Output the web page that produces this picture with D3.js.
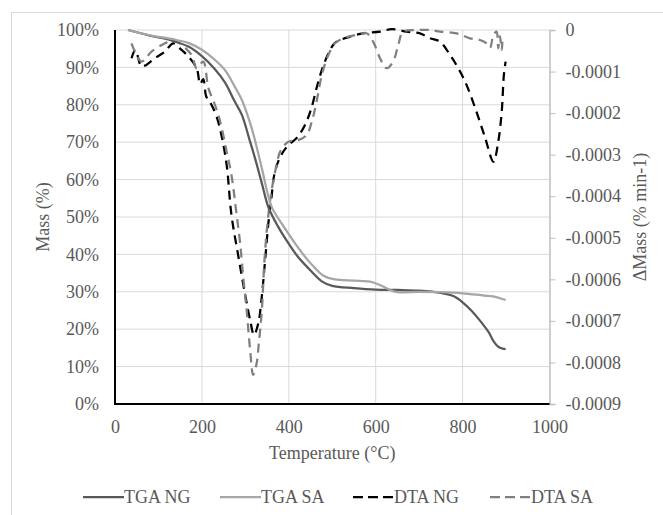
<!DOCTYPE html>
<html><head><meta charset="utf-8">
<script src="https://cdn.jsdelivr.net/npm/d3@7"></script>
<style>
html,body{margin:0;padding:0;background:#fff;}
svg, svg text{font-family:"Liberation Serif","Times New Roman",Times,serif !important;}
svg text{fill:#595959;}
</style></head>
<body><svg id="c" width="663" height="515" font-family="Liberation Serif"></svg>
<script>
// ---- data ----
const xTicks = [0, 200, 400, 600, 800, 1000];
const leftTicks = [0, 10, 20, 30, 40, 50, 60, 70, 80, 90, 100];
const rightTicks = [0, -0.0001, -0.0002, -0.0003, -0.0004, -0.0005, -0.0006, -0.0007, -0.0008, -0.0009];
const rightTickLabels = ["0", "-0.0001", "-0.0002", "-0.0003", "-0.0004", "-0.0005", "-0.0006", "-0.0007", "-0.0008", "-0.0009"];
const seriesNames = ["TGA NG", "TGA SA", "DTA NG", "DTA SA"];

const tgaNG = [[30,100],[80,98.5],[130,97.2],[170,95.5],[200,93],[230,89.5],[253,86],[275,81],[292,77.3],[310,70.5],[322,65.8],[338,59],[353,52.6],[375,47.5],[399,43],[420,39.5],[445,36.3],[476,32.8],[500,31.6],[550,31],[600,30.6],[650,30.5],[700,30.3],[750,29.7],[780,28.8],[802,27],[820,25],[840,22.3],[860,19.2],[871,16.8],[882,15.3],[892,14.8],[899,14.7]];
const tgaSA = [[30,100],[80,98.6],[130,97.6],[170,96.5],[200,94.7],[230,92],[253,89.3],[275,85],[292,81.3],[310,75.5],[322,70.6],[338,63],[353,55.5],[362,52.3],[385,48],[414,43],[440,39],[460,36.4],[480,34.3],[506,33.3],[550,33],[587,32.7],[610,31.8],[633,30.5],[650,29.9],[700,30],[750,29.9],[800,29.6],[850,29],[870,28.8],[899,27.8]];
const dtaNG = [[38,-0.000068],[47,-0.000048],[61,-0.000088],[72,-0.000084],[92,-0.000068],[115,-0.000052],[134,-0.000032],[153,-0.000048],[169,-0.000064],[188,-0.000092],[196,-0.00013],[203,-0.000118],[210,-0.00016],[222,-0.00018],[234,-0.000209],[245,-0.000253],[257,-0.000325],[268,-0.000445],[284,-0.000545],[299,-0.000634],[311,-0.000698],[320,-0.000734],[330,-0.000705],[337,-0.00065],[345,-0.00056],[353,-0.000465],[360,-0.000404],[368,-0.000341],[383,-0.0003],[399,-0.000277],[418,-0.00026],[437,-0.000229],[452,-0.000188],[468,-0.000124],[483,-0.000076],[502,-0.000036],[510,-0.000028],[541,-0.000016],[571,-0.000008],[610,-0.000004],[637,0.000002],[671,-0.000004],[702,-0.000008],[725,-0.00002],[748,-0.000028],[771,-0.00006],[790,-0.000092],[809,-0.000132],[832,-0.000197],[852,-0.00026],[871,-0.000317],[882,-0.000269],[890,-0.000197],[895,-0.000108],[899,-0.000076]];
const dtaSA = [[38,-0.000032],[61,-0.000076],[84,-0.000052],[115,-0.000032],[134,-0.000024],[149,-0.000032],[176,-0.00006],[188,-0.000092],[203,-0.000076],[215,-0.00014],[230,-0.00018],[242,-0.00022],[257,-0.000293],[268,-0.000349],[280,-0.000445],[288,-0.000513],[295,-0.000594],[303,-0.000674],[311,-0.00077],[318,-0.00083],[326,-0.000802],[331,-0.000754],[338,-0.000674],[344,-0.000553],[351,-0.000465],[360,-0.000389],[372,-0.000325],[380,-0.000293],[399,-0.000269],[422,-0.000265],[441,-0.000253],[453,-0.00022],[464,-0.000172],[476,-0.000108],[491,-0.00006],[506,-0.000032],[525,-0.00002],[556,-0.000012],[579,-0.000008],[594,-0.000028],[610,-0.000068],[625,-0.000092],[640,-0.000076],[652,-0.000036],[663,-0.000004],[694,0],[725,0],[748,-0.000004],[786,-0.000008],[817,-0.00002],[840,-0.000024],[855,-0.000032],[863,-0.000043],[871,-0.000012],[878,-0.000004],[882,-0.000044],[886,-0.000015],[890,-0.000048],[893,-0.00002],[897,-0.000016]];

// ---- layout ----
const FONT = '"Liberation Serif","Times New Roman",Times,serif';
const svg = d3.select("#c");
const L = 115, R = 549.5, T = 30, B = 404;
const x = d3.scaleLinear().domain([0, 1000]).range([L, R]);
const yL = d3.scaleLinear().domain([0, 100]).range([B, T]);
const yR = d3.scaleLinear().domain([-0.0009, 0]).range([B, T]);

// outer border
svg.append("rect").attr("x", 11.5).attr("y", 12.5).attr("width", 700).attr("height", 600)
  .attr("fill", "none").attr("stroke", "#d9d9d9").attr("stroke-width", 1);

// gridlines
svg.append("g").selectAll("line").data(leftTicks.filter(d => d > 0)).join("line")
  .attr("x1", L).attr("x2", R).attr("y1", d => yL(d)).attr("y2", d => yL(d))
  .attr("stroke", "#d9d9d9").attr("stroke-width", 1);
svg.append("g").selectAll("line").data(xTicks.filter(d => d > 0 && d < 1000)).join("line")
  .attr("y1", T).attr("y2", B).attr("x1", d => x(d)).attr("x2", d => x(d))
  .attr("stroke", "#d9d9d9").attr("stroke-width", 1);

function styleAxisText(g) {
  g.attr("font-family", FONT).attr("font-size", 18);
  g.selectAll("text").attr("fill", "#595959").style("font-family", FONT).style("font-size", "18px");
}

// right axis (gray, with outward ticks)
const rAxis = svg.append("g").attr("transform", `translate(${R},0)`)
  .call(d3.axisRight(yR).tickValues(rightTicks).tickSize(6).tickPadding(10)
    .tickFormat((d, i) => rightTickLabels[i]));
rAxis.select(".domain").attr("stroke", "#bfbfbf").attr("stroke-width", 1.5);
rAxis.selectAll(".tick line").attr("stroke", "#bfbfbf");
styleAxisText(rAxis);

// left axis
const lAxis = svg.append("g").attr("transform", `translate(${L},0)`)
  .call(d3.axisLeft(yL).tickValues(leftTicks).tickSize(0).tickPadding(16).tickFormat(d => d + "%"));
lAxis.select(".domain").remove();
styleAxisText(lAxis);

// bottom axis
const bAxis = svg.append("g").attr("transform", `translate(0,${B})`)
  .call(d3.axisBottom(x).tickValues(xTicks).tickSize(0).tickPadding(16).tickFormat(d3.format("d")));
bAxis.select(".domain").remove();
styleAxisText(bAxis);

// black axis lines
svg.append("line").attr("x1", L).attr("x2", L).attr("y1", T).attr("y2", B + 1)
  .attr("stroke", "#000").attr("stroke-width", 2);
svg.append("line").attr("x1", L - 1).attr("x2", R).attr("y1", B).attr("y2", B)
  .attr("stroke", "#000").attr("stroke-width", 2);

// axis titles
svg.append("text").attr("x", (L + R) / 2).attr("y", 459).attr("text-anchor", "middle")
  .style("font-size", "18px").style("font-family", FONT).text("Temperature (°C)");
svg.append("text").attr("transform", `translate(49,${(T + B) / 2}) rotate(-90)`)
  .attr("text-anchor", "middle").style("font-size", "18px").style("font-family", FONT).text("Mass (%)");
svg.append("text").attr("transform", `translate(646,${(T + B) / 2}) rotate(-90)`)
  .attr("text-anchor", "middle").style("font-size", "18px").style("font-family", FONT).text("ΔMass (% min-1)");

// series
const styles = [
  {data: tgaNG, y: yL, color: "#595959", dash: null},
  {data: tgaSA, y: yL, color: "#a6a6a6", dash: null},
  {data: dtaNG, y: yR, color: "#000000", dash: "9,6"},
  {data: dtaSA, y: yR, color: "#808080", dash: "9,6"}
];
const drawOrder = [2, 3, 0, 1];
drawOrder.forEach(i => {
  const s = styles[i];
  const line = d3.line().x(d => x(d[0])).y(d => s.y(d[1])).curve(d3.curveCatmullRom.alpha(0.5));
  svg.append("path").datum(s.data).attr("d", line).attr("fill", "none")
    .attr("stroke", s.color).attr("stroke-width", 2.25)
    .attr("stroke-dasharray", s.dash).attr("stroke-linejoin", "round");
});

// legend
const legX = [83, 220, 353, 490];
const legY = 497;
seriesNames.forEach((name, i) => {
  const s = styles[i];
  svg.append("line").attr("x1", legX[i]).attr("x2", legX[i] + 41).attr("y1", legY).attr("y2", legY)
    .attr("stroke", s.color).attr("stroke-width", 2.25).attr("stroke-dasharray", s.dash ? "10,5" : null);
  svg.append("text").attr("x", legX[i] + 41).attr("y", legY).attr("dy", "0.35em")
    .style("font-size", "18px").style("font-family", FONT).text(name);
});
</script></body></html>
